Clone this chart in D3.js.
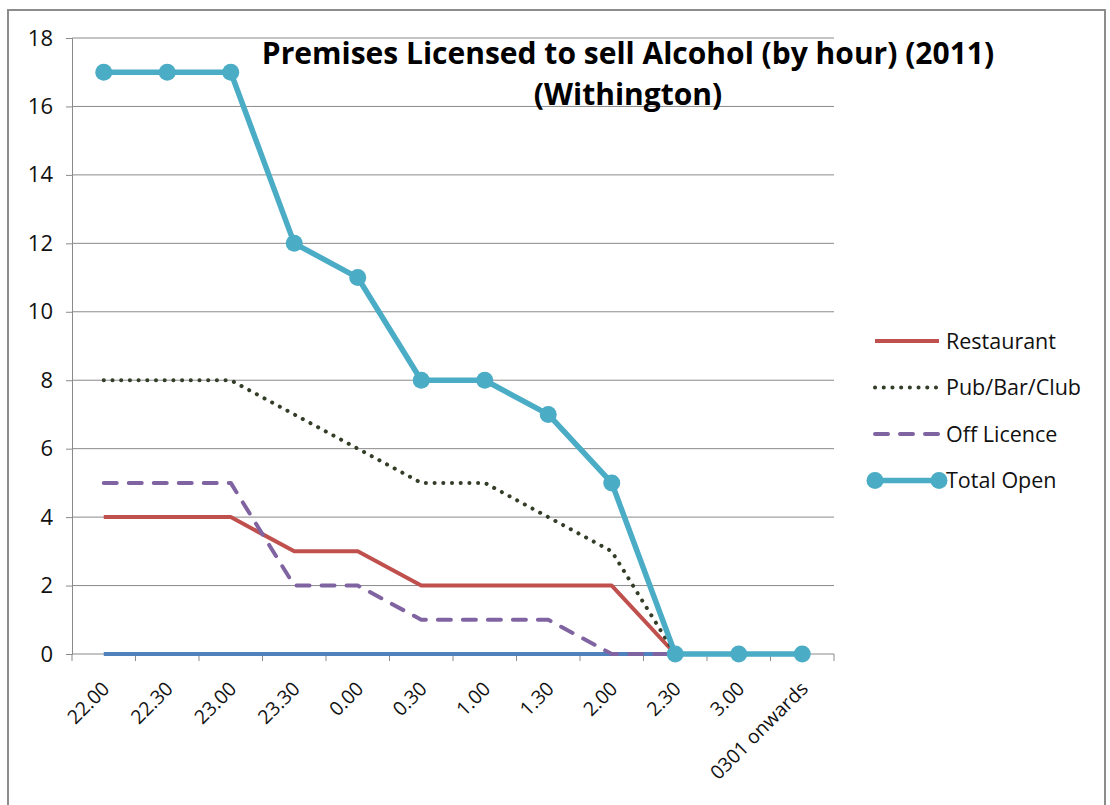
<!DOCTYPE html>
<html>
<head>
<meta charset="utf-8">
<script src="https://cdn.jsdelivr.net/npm/d3@7"></script>
<style>
  html, body { margin: 0; padding: 0; background: #fff; }
  svg { display: block; font-family: "Open Sans", "Noto Sans", sans-serif; }
</style>
</head>
<body>
<svg id="chart" width="1110" height="805"></svg>
<script>
// Half-hour slots through the night
const categories = ["22.00", "22.30", "23.00", "23.30", "0.00", "0.30", "1.00", "1.30", "2.00", "2.30", "3.00", "0301 onwards"];

// Premises open in each slot, by type
const restaurant = [4, 4, 4, 3, 3, 2, 2, 2, 2, 0];
const pubBarClub = [8, 8, 8, 7, 6, 5, 5, 4, 3, 0];
const offLicence = [5, 5, 5, 2, 2, 1, 1, 1, 0, 0];
const totalOpen  = [17, 17, 17, 12, 11, 8, 8, 7, 5, 0, 0, 0];
// unnamed zero series along the axis
const baseline   = [0, 0, 0, 0, 0, 0, 0, 0, 0, 0];

const yTicks = [0, 2, 4, 6, 8, 10, 12, 14, 16, 18];
const titleLines = ["Premises Licensed to sell Alcohol (by hour) (2011)", "(Withington)"];

const svg = d3.select("#chart");
const plot = { left: 72, right: 834, top: 38, bottom: 654 };

const x = d3.scaleBand().domain(categories).range([plot.left, plot.right]);
const y = d3.scaleLinear().domain([0, 18]).range([plot.bottom, plot.top]);
const cx = c => x(c) + x.bandwidth() / 2;

// outer frame
svg.append("rect")
  .attr("x", 8).attr("y", 10).attr("width", 1097).attr("height", 820)
  .attr("fill", "none").attr("stroke", "#8c8c8c").attr("stroke-width", 2);

// horizontal gridlines
svg.append("g").selectAll("line").data(yTicks.filter(d => d > 0)).join("line")
  .attr("x1", plot.left).attr("x2", plot.right)
  .attr("y1", d => y(d)).attr("y2", d => y(d))
  .attr("stroke", "#8a8a8a").attr("stroke-width", 1);

// y axis
const yAxis = svg.append("g").attr("transform", `translate(${plot.left},0)`)
  .call(d3.axisLeft(y).tickValues(yTicks).tickSize(6).tickPadding(13).tickFormat(d3.format("d")));
yAxis.attr("font-size", null).attr("font-family", null);
yAxis.select(".domain").attr("stroke", "#8a8a8a");
yAxis.selectAll(".tick line").attr("stroke", "#8a8a8a");
yAxis.selectAll(".tick text").attr("font-size", 22).attr("fill", "#111");

// x axis: ticks at slot boundaries
const xAxisG = svg.append("g").attr("transform", `translate(0,${plot.bottom})`);
const boundaries = categories.map(c => x(c)).concat([plot.right]);
xAxisG.append("line").attr("x1", plot.left).attr("x2", plot.right)
  .attr("y1", 0).attr("y2", 0).attr("stroke", "#8a8a8a");
xAxisG.selectAll(".bt").data(boundaries).join("line").attr("class", "bt")
  .attr("x1", d => d).attr("x2", d => d).attr("y1", 0).attr("y2", 7)
  .attr("stroke", "#8a8a8a");
xAxisG.selectAll("text").data(categories).join("text")
  .attr("transform", d => `translate(${cx(d) + 7},${36}) rotate(-45)`)
  .attr("text-anchor", "end")
  .attr("font-size", 19.5).attr("fill", "#111")
  .text(d => d);

const line = d3.line().x((d, i) => cx(categories[i])).y(d => y(d));

// zero series
svg.append("path").datum(baseline).attr("d", line)
  .attr("fill", "none").attr("stroke", "#4F81BD").attr("stroke-width", 4);

const series = [
  { name: "Restaurant", values: restaurant, color: "#C0504D", width: 4, dash: null, cap: "butt" },
  { name: "Pub/Bar/Club", values: pubBarClub, color: "#333d27", width: 4, dash: "0.1 8.6", cap: "round" },
  { name: "Off Licence", values: offLicence, color: "#8064A2", width: 4, dash: "13 12", cap: "round" }
];

series.forEach(s => {
  svg.append("path").datum(s.values).attr("d", line)
    .attr("fill", "none").attr("stroke", s.color).attr("stroke-width", s.width)
    .attr("stroke-dasharray", s.dash).attr("stroke-linecap", s.cap)
    .attr("stroke-linejoin", "round");
});

// total line with markers
svg.append("path").datum(totalOpen).attr("d", line)
  .attr("fill", "none").attr("stroke", "#4BACC6").attr("stroke-width", 5.5)
  .attr("stroke-linejoin", "round");
svg.append("g").selectAll("circle").data(totalOpen).join("circle")
  .attr("cx", (d, i) => cx(categories[i])).attr("cy", d => y(d)).attr("r", 8.5)
  .attr("fill", "#4BACC6");

// title
const title = svg.append("text").attr("x", 628).attr("y", 64)
  .attr("text-anchor", "middle").attr("font-weight", "bold").attr("font-size", 30)
  .attr("fill", "#000");
titleLines.forEach((t, i) => {
  title.append("tspan").attr("x", 628).attr("dy", i === 0 ? 0 : 41).text(t);
});

// legend
const legend = svg.append("g");
const legendItems = [...series, { name: "Total Open", color: "#4BACC6", width: 5.5, dash: null, marker: true }];
legendItems.forEach((s, i) => {
  const ly = 341 + i * 46.5;
  const g = legend.append("g");
  g.append("line").attr("x1", 875).attr("x2", 939).attr("y1", ly).attr("y2", ly)
    .attr("stroke", s.color).attr("stroke-width", s.width)
    .attr("stroke-dasharray", s.dash).attr("stroke-linecap", s.cap || "butt");
  if (s.marker) {
    g.append("circle").attr("cx", 875).attr("cy", ly).attr("r", 8.5).attr("fill", s.color);
    g.append("circle").attr("cx", 939).attr("cy", ly).attr("r", 8.5).attr("fill", s.color);
  }
  g.append("text").attr("x", 946).attr("y", ly).attr("dy", "0.35em")
    .attr("font-size", 21.5).attr("fill", "#111").text(s.name);
});
</script>
</body>
</html>
